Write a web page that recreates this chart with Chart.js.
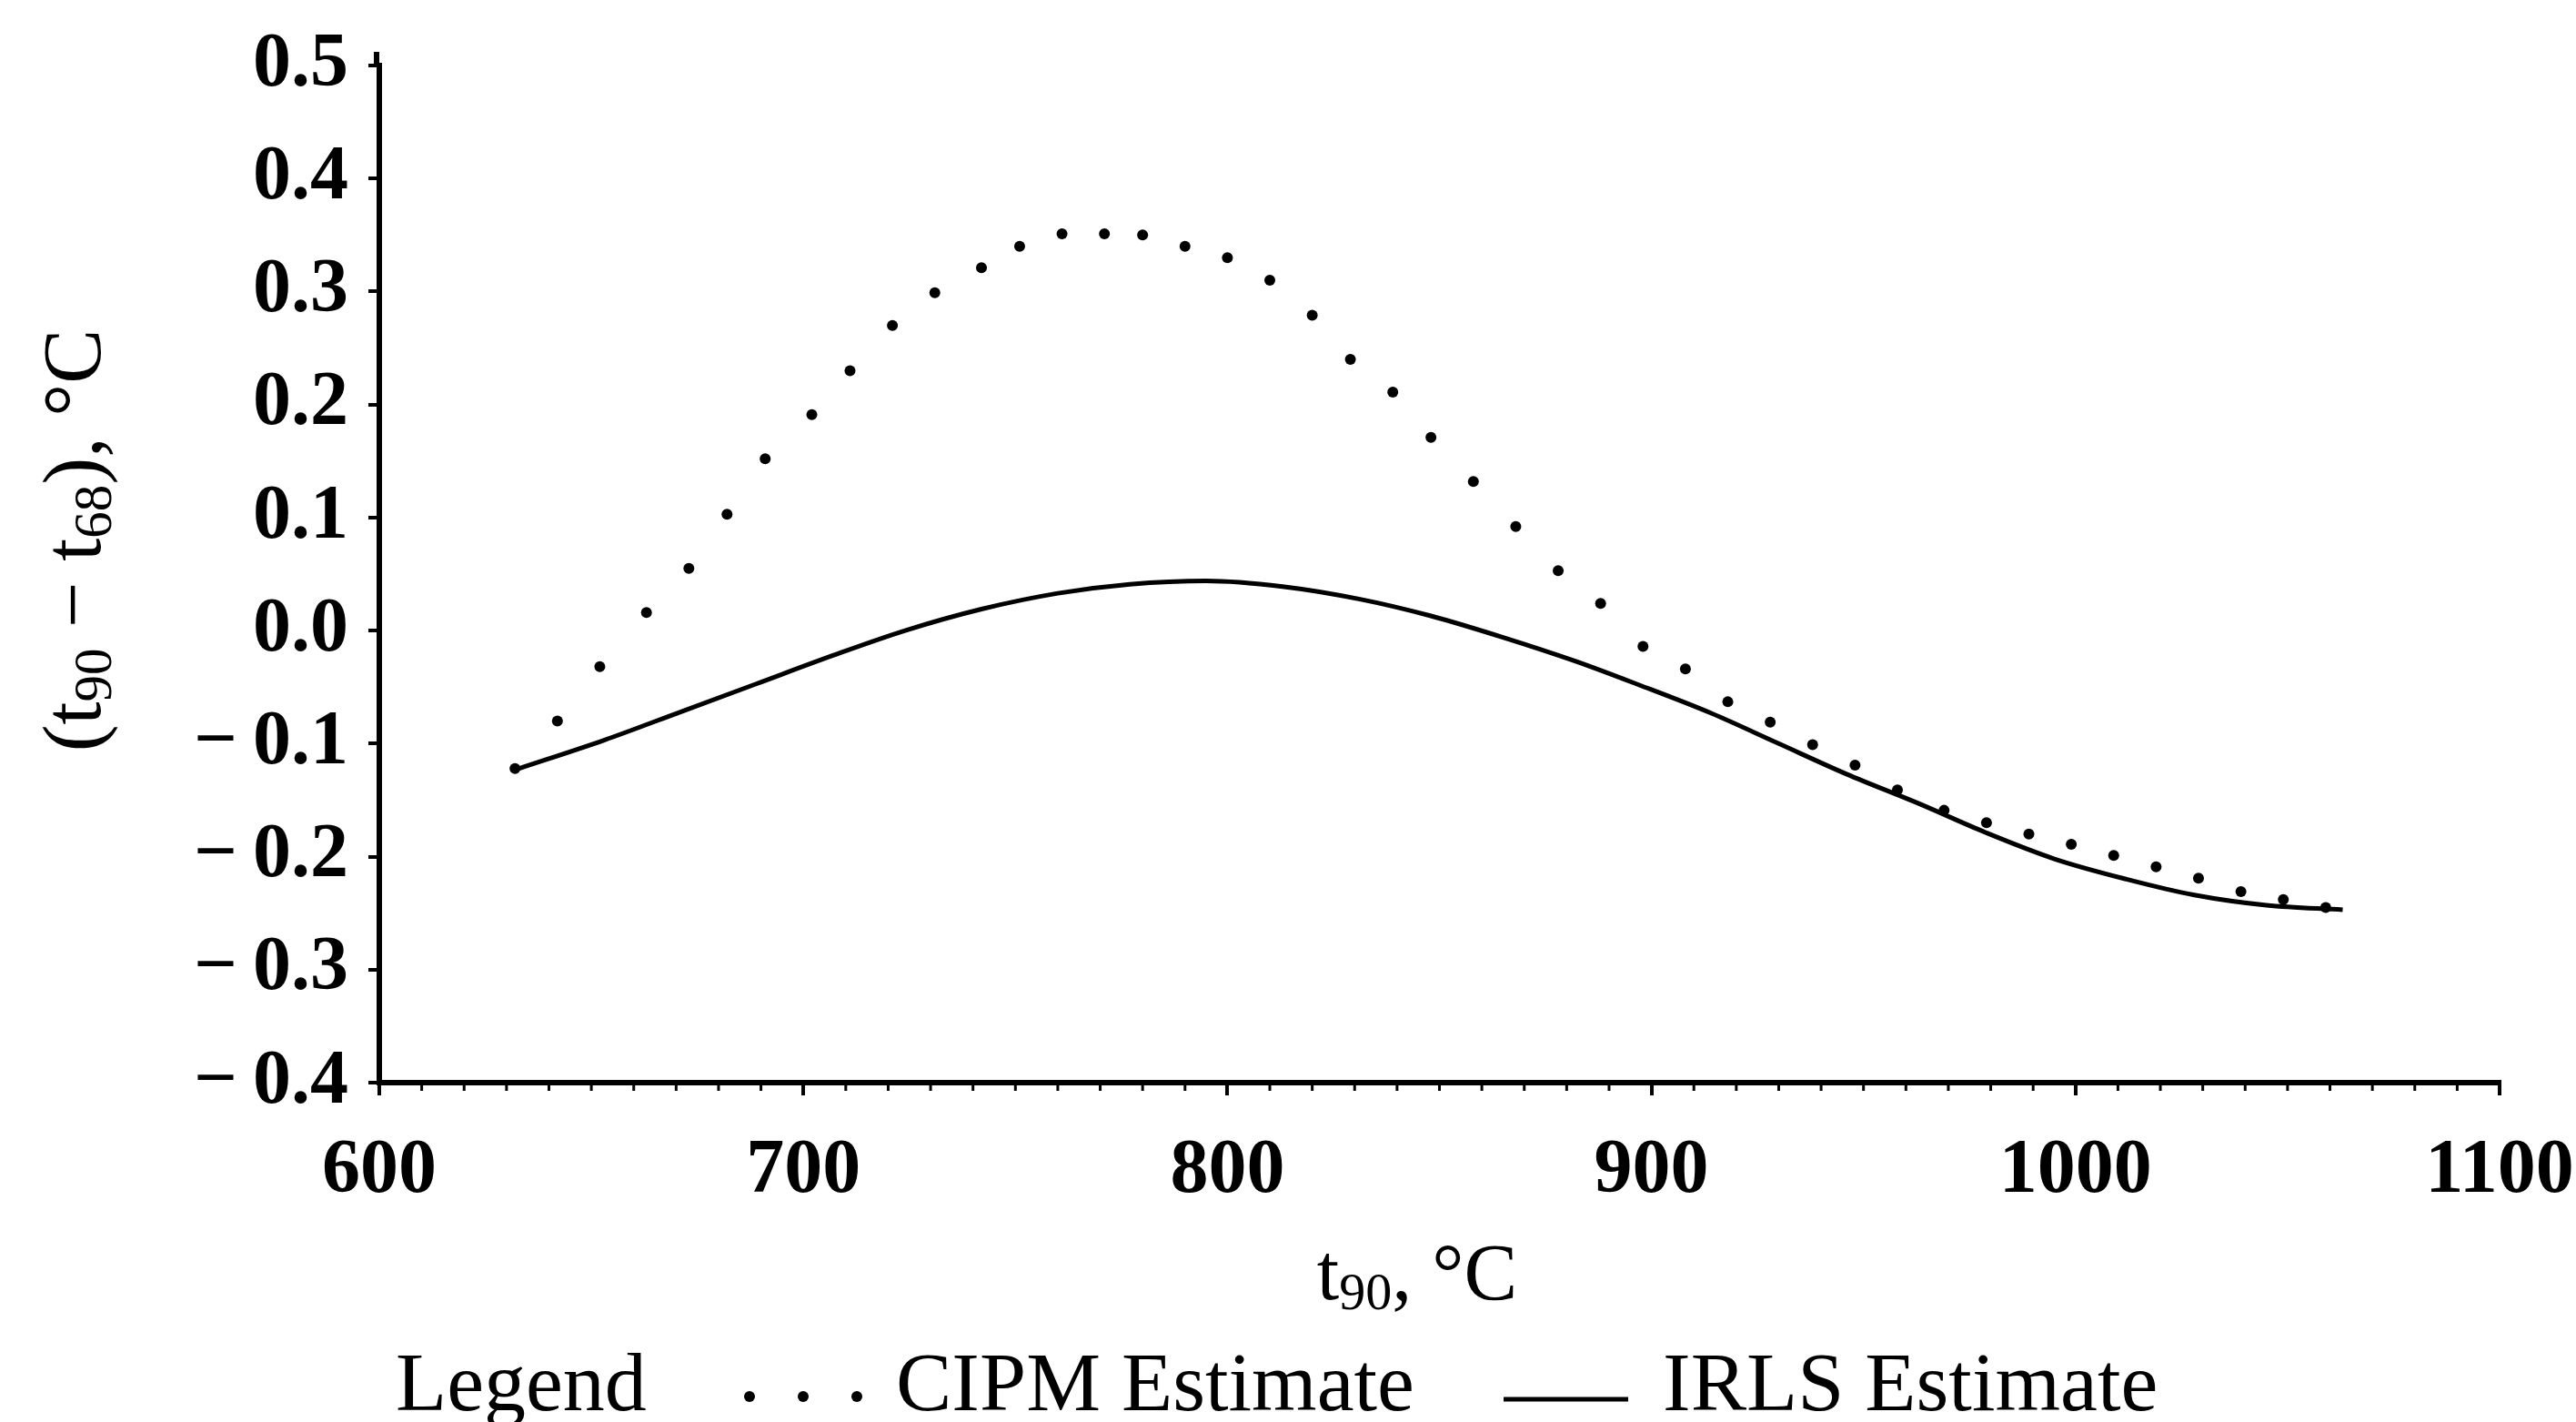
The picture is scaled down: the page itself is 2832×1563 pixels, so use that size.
<!DOCTYPE html>
<html>
<head>
<meta charset="utf-8">
<title>t90 - t68</title>
<script src="https://cdn.jsdelivr.net/npm/chart.js@4.4.1/dist/chart.umd.min.js"></script>
<style>
  html, body { margin: 0; padding: 0; background: #ffffff; }
  #wrap { position: relative; width: 2832px; height: 1563px; }
</style>
</head>
<body>
<div id="wrap"><canvas id="diffChart" width="2832" height="1563"></canvas></div>
<script>
// CIPM estimate, dotted (t90 in °C, t90 - t68 in °C)
const cipmTemps = [632, 642, 652, 663, 673, 682, 691, 702, 711, 721, 731, 742, 751, 761, 771, 780,
  790, 800, 810, 820, 829, 839, 848, 858, 868, 878, 888, 898, 908, 918, 928, 938, 948, 958, 969,
  979, 989, 999, 1009, 1019, 1029, 1039, 1049, 1059];
const cipmDiffs = [-0.122, -0.080, -0.032, 0.016, 0.055, 0.103, 0.152, 0.191, 0.230, 0.270, 0.299,
  0.321, 0.340, 0.351, 0.351, 0.350, 0.340, 0.330, 0.310, 0.279, 0.240, 0.211, 0.171, 0.132, 0.092,
  0.053, 0.024, -0.014, -0.034, -0.063, -0.081, -0.101, -0.119, -0.141, -0.159, -0.170, -0.180,
  -0.189, -0.199, -0.209, -0.219, -0.231, -0.238, -0.245];

// IRLS estimate, solid curve
const irlsTemps = [633, 653, 671, 689, 707, 724, 742, 760, 777, 795, 813, 831, 848, 865, 882, 897,
  914, 930, 946, 963, 979, 995, 1012, 1028, 1045, 1063];
const irlsDiffs = [-0.122, -0.097, -0.072, -0.047, -0.022, 0.000, 0.019, 0.033, 0.041, 0.044, 0.039,
  0.028, 0.013, -0.006, -0.027, -0.048, -0.073, -0.100, -0.127, -0.153, -0.179, -0.202, -0.220,
  -0.234, -0.243, -0.247];

const xTicks = [600, 700, 800, 900, 1000, 1100];
const yTicks = [-0.4, -0.3, -0.2, -0.1, 0.0, 0.1, 0.2, 0.3, 0.4, 0.5];

const SERIF = '"Liberation Serif", "DejaVu Serif", serif';
const INK = "#000000";

const toPoints = (xs, ys) => xs.map((x, i) => ({ x: x, y: ys[i] }));

// Draws a run of text with subscript pieces, centred on x, y is the baseline
function drawRich(ctx, parts, x, y, size) {
  const subSize = Math.round(size * 0.66);
  const widths = parts.map(([text, sub]) => {
    ctx.font = `${sub ? subSize : size}px ${SERIF}`;
    return ctx.measureText(text).width;
  });
  let cx = x - widths.reduce((a, b) => a + b, 0) / 2;
  parts.forEach(([text, sub], i) => {
    ctx.font = `${sub ? subSize : size}px ${SERIF}`;
    ctx.fillText(text, cx, sub ? y + size * 0.13 : y);
    cx += widths[i];
  });
}

// Axis titles, minor x ticks and the legend line under the plot
const decorations = {
  id: "decorations",
  afterDraw(chart) {
    const ctx = chart.ctx;
    const xs = chart.scales.x;
    const area = chart.chartArea;
    ctx.save();
    ctx.fillStyle = INK;
    ctx.strokeStyle = INK;
    ctx.textAlign = "left";
    ctx.textBaseline = "alphabetic";

    // y axis runs a little past the top tick
    ctx.lineWidth = 6;
    ctx.beginPath();
    ctx.moveTo(area.left - 3, area.top);
    ctx.lineTo(area.left - 3, area.top - 15);
    ctx.stroke();

    // minor ticks every 10 °C
    ctx.lineWidth = 3;
    for (let v = 610; v < 1100; v += 10) {
      if (v % 100 === 0) continue;
      const px = xs.getPixelForValue(v);
      ctx.beginPath();
      ctx.moveTo(px, area.bottom);
      ctx.lineTo(px, area.bottom + 9);
      ctx.stroke();
    }

    // x title
    drawRich(ctx, [["t", false], ["90", true], [", °C", false]], 1558, 1428, 88);

    // y title, rotated
    ctx.save();
    ctx.translate(110, 594);
    ctx.rotate(-Math.PI / 2);
    drawRich(ctx, [["(t", false], ["90", true], [" − t", false], ["68", true], ["), °C", false]], 0, 0, 90);
    ctx.restore();

    // legend
    const base = 1550;
    ctx.font = `92px ${SERIF}`;
    ctx.fillText("Legend", 435, base);
    [824, 883, 942].forEach((px) => {
      ctx.beginPath();
      ctx.arc(px, base - 15, 6, 0, Math.PI * 2);
      ctx.fill();
    });
    ctx.fillText("CIPM Estimate", 985, base);
    ctx.lineWidth = 5;
    ctx.beginPath();
    ctx.moveTo(1653, base - 12);
    ctx.lineTo(1790, base - 12);
    ctx.stroke();
    ctx.fillText("IRLS Estimate", 1828, base);
    ctx.restore();
  },
};

const tickFont = { family: SERIF, size: 84, weight: "bold" };

new Chart(document.getElementById("diffChart"), {
  type: "scatter",
  data: {
    datasets: [
      {
        label: "CIPM Estimate",
        data: toPoints(cipmTemps, cipmDiffs),
        showLine: false,
        pointRadius: 6,
        pointBackgroundColor: INK,
        pointBorderWidth: 0,
      },
      {
        label: "IRLS Estimate",
        data: toPoints(irlsTemps, irlsDiffs),
        showLine: true,
        borderColor: INK,
        borderWidth: 5,
        cubicInterpolationMode: "monotone",
        pointRadius: 0,
      },
    ],
  },
  options: {
    responsive: false,
    animation: false,
    layout: { padding: { top: 72, right: 84, left: 0, bottom: 0 } },
    plugins: {
      legend: { display: false },
      tooltip: { enabled: false },
    },
    scales: {
      x: {
        type: "linear",
        min: 600,
        max: 1100,
        afterBuildTicks: (scale) => {
          scale.ticks = xTicks.map((v) => ({ value: v }));
        },
        afterFit: (scale) => {
          // fixed box; end labels may hang over the padding
          scale.height = 373;
          scale.paddingLeft = 0;
          scale.paddingRight = 0;
        },
        ticks: {
          color: INK,
          font: tickFont,
          padding: 34,
          maxRotation: 0,
          callback: (v) => String(v),
        },
        grid: {
          drawOnChartArea: false,
          drawTicks: true,
          tickLength: 14,
          color: INK,
          lineWidth: 4,
        },
        border: { display: true, color: INK, width: 6 },
      },
      y: {
        type: "linear",
        min: -0.4,
        max: 0.5,
        afterBuildTicks: (scale) => {
          scale.ticks = yTicks.map((v) => ({ value: v }));
        },
        afterFit: (scale) => {
          scale.width = 417;
          scale.paddingTop = 0;
          scale.paddingBottom = 0;
        },
        ticks: {
          color: INK,
          font: tickFont,
          padding: 22,
          callback: (v) => {
            const s = Math.abs(v).toFixed(1);
            return v < -1e-9 ? "\u2212\u2009" + s : s;
          },
        },
        grid: {
          drawOnChartArea: false,
          drawTicks: true,
          tickLength: 12,
          color: INK,
          lineWidth: 4,
        },
        border: { display: true, color: INK, width: 6 },
      },
    },
  },
  plugins: [decorations],
});
</script>
</body>
</html>
